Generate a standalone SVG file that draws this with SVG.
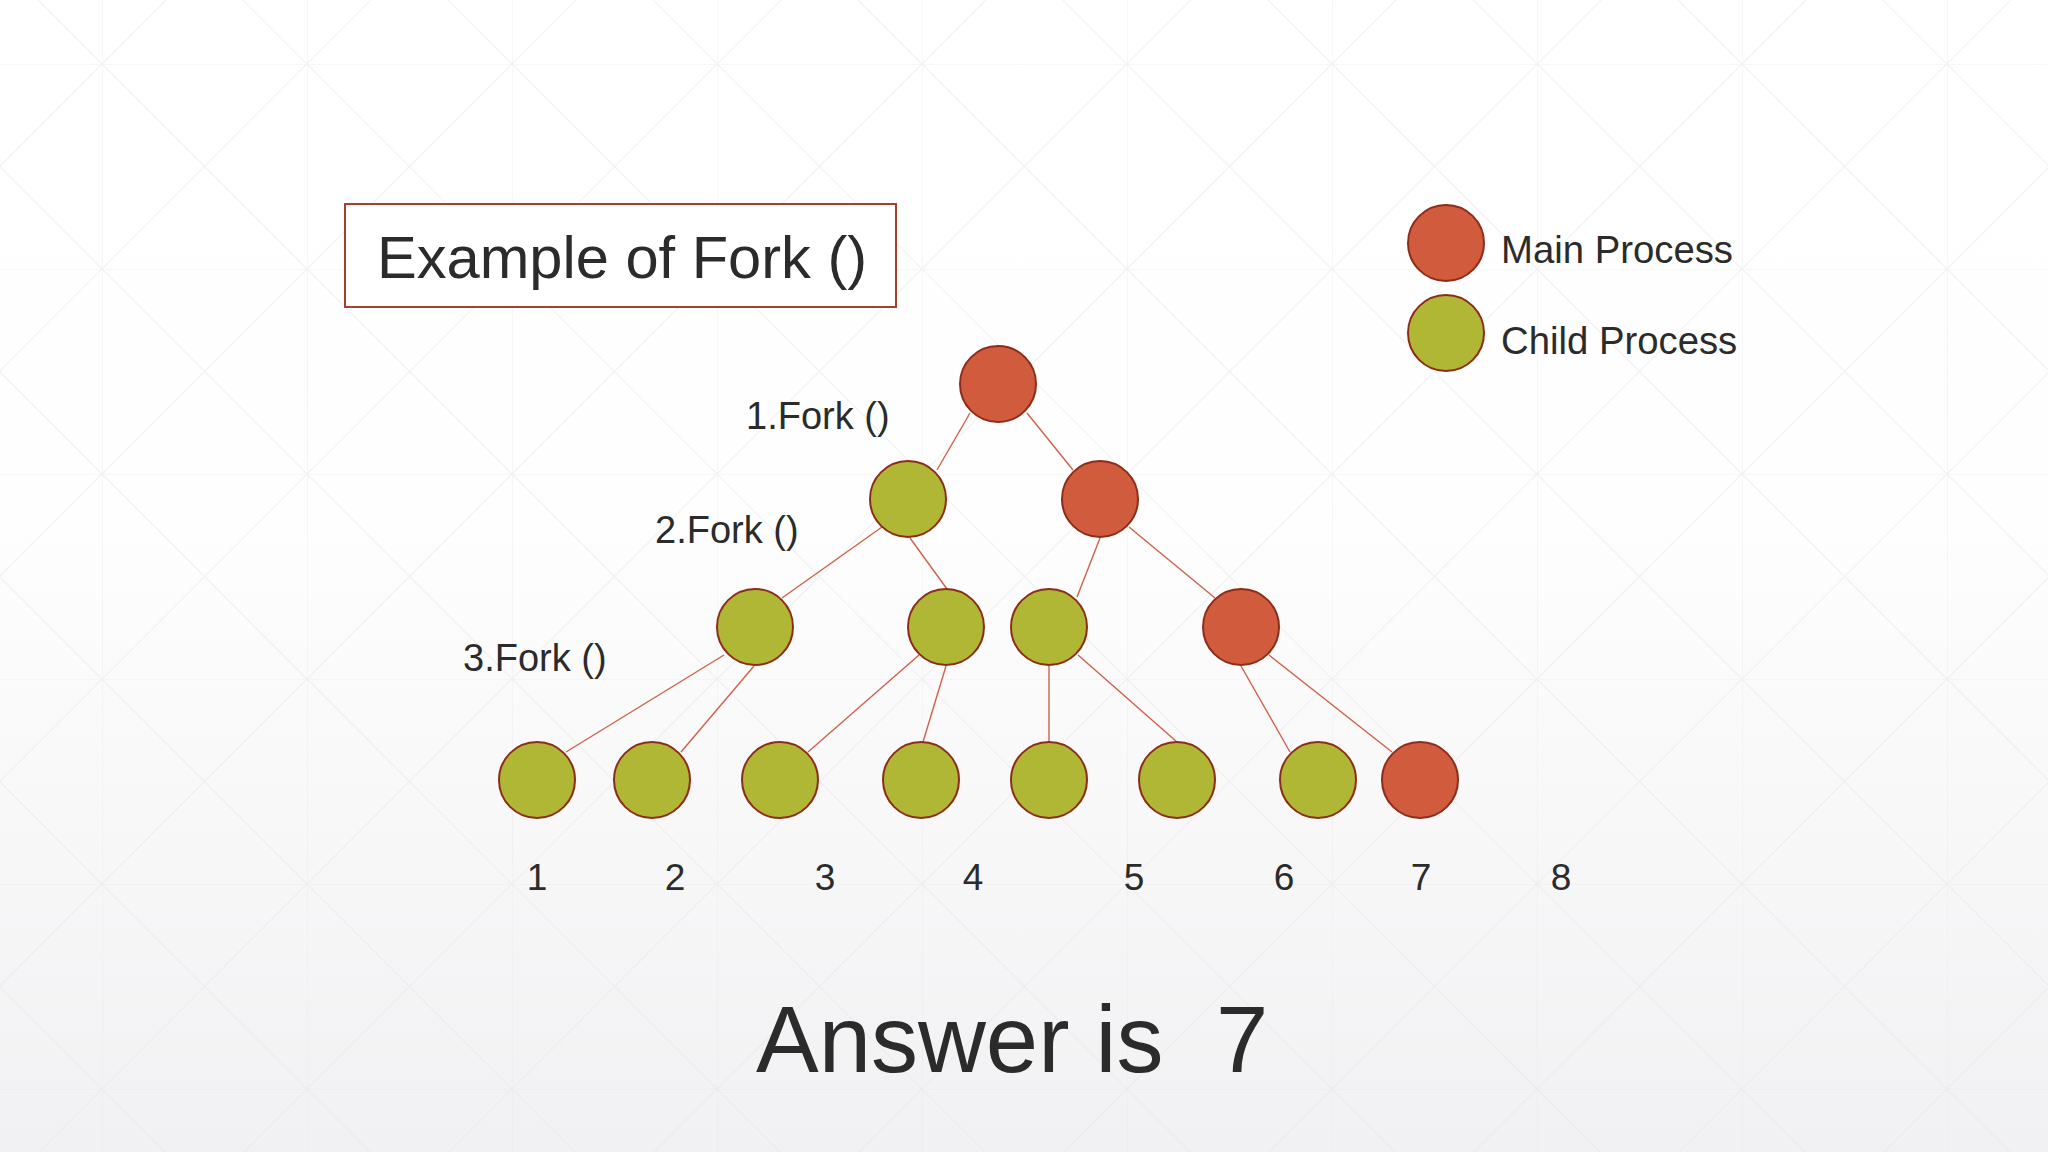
<svg xmlns="http://www.w3.org/2000/svg" width="2048" height="1152" viewBox="0 0 2048 1152">
  <defs>
    <linearGradient id="bg" x1="0" y1="0" x2="0" y2="1">
      <stop offset="0" stop-color="#ffffff"/>
      <stop offset="0.45" stop-color="#fefefe"/>
      <stop offset="1" stop-color="#f1f1f3"/>
    </linearGradient>
    <pattern id="grid" patternUnits="userSpaceOnUse" x="102" y="64" width="205" height="205">
      <path d="M0 0H205M0 0V205M0 0L205 205M205 0L0 205" fill="none" stroke="#e4e4e8" stroke-width="1.2"/>
    </pattern>
    <style>
      .main { fill: #D15B3D; stroke: #8E2C1A; stroke-width: 2; }
      .child { fill: #AFB735; stroke: #8E2C1A; stroke-width: 2; }
      .edge { stroke: #D0604A; stroke-width: 1.4; fill: none; }
      .t { font-family: "Liberation Sans", Arial, sans-serif; fill: #2b2b2b; }
      .lbl { font-size: 38px; }
      .num { font-size: 37px; text-anchor: middle; }
    </style>
  </defs>

  <rect width="2048" height="1152" fill="url(#bg)"/>
  <rect width="2048" height="1152" fill="url(#grid)" opacity="0.5"/>

  <g id="title">
    <rect x="345" y="204" width="551" height="103" fill="#ffffff" stroke="#A3402E" stroke-width="2"/>
    <text class="t" x="377" y="278" font-size="59.6">Example of Fork ()</text>
  </g>

  <g id="legend-main">
    <circle class="main" cx="1446" cy="243" r="38"/>
    <text class="t" x="1501" y="263" font-size="38.3">Main Process</text>
  </g>
  <g id="legend-child">
    <circle class="child" cx="1446" cy="333" r="38"/>
    <text class="t" x="1501" y="354" font-size="38.3">Child Process</text>
  </g>

  <g id="connectors">
    <line class="edge" x1="970" y1="413" x2="937" y2="470"/>
    <line class="edge" x1="1027" y1="413" x2="1073" y2="470"/>
    <line class="edge" x1="882" y1="527" x2="782" y2="598"/>
    <line class="edge" x1="910" y1="538" x2="947" y2="589"/>
    <line class="edge" x1="1100" y1="538" x2="1077" y2="597"/>
    <line class="edge" x1="1129" y1="527" x2="1215" y2="598"/>
    <line class="edge" x1="724" y1="655" x2="566" y2="752"/>
    <line class="edge" x1="754" y1="666" x2="681" y2="752"/>
    <line class="edge" x1="919" y1="655" x2="808" y2="752"/>
    <line class="edge" x1="946" y1="666" x2="923" y2="742"/>
    <line class="edge" x1="1049" y1="666" x2="1049" y2="742"/>
    <line class="edge" x1="1078" y1="655" x2="1177" y2="742"/>
    <line class="edge" x1="1241" y1="666" x2="1290" y2="752"/>
    <line class="edge" x1="1269" y1="655" x2="1392" y2="752"/>
  </g>

  <g id="node-root"><circle class="main" cx="998" cy="384" r="38"/></g>
  <g id="node-l1-child"><circle class="child" cx="908" cy="499" r="38"/></g>
  <g id="node-l1-main"><circle class="main" cx="1100" cy="499" r="38"/></g>
  <g id="node-l2-a"><circle class="child" cx="755" cy="627" r="38"/></g>
  <g id="node-l2-b"><circle class="child" cx="946" cy="627" r="38"/></g>
  <g id="node-l2-c"><circle class="child" cx="1049" cy="627" r="38"/></g>
  <g id="node-l2-main"><circle class="main" cx="1241" cy="627" r="38"/></g>
  <g id="node-l3-1"><circle class="child" cx="537" cy="780" r="38"/></g>
  <g id="node-l3-2"><circle class="child" cx="652" cy="780" r="38"/></g>
  <g id="node-l3-3"><circle class="child" cx="780" cy="780" r="38"/></g>
  <g id="node-l3-4"><circle class="child" cx="921" cy="780" r="38"/></g>
  <g id="node-l3-5"><circle class="child" cx="1049" cy="780" r="38"/></g>
  <g id="node-l3-6"><circle class="child" cx="1177" cy="780" r="38"/></g>
  <g id="node-l3-7"><circle class="child" cx="1318" cy="780" r="38"/></g>
  <g id="node-l3-main"><circle class="main" cx="1420" cy="780" r="38"/></g>

  <g id="fork-labels">
    <text class="t lbl" x="746" y="429">1.Fork ()</text>
    <text class="t lbl" x="655" y="543">2.Fork ()</text>
    <text class="t lbl" x="463" y="671">3.Fork ()</text>
  </g>

  <g id="counts">
    <text class="t num" x="537" y="890">1</text>
    <text class="t num" x="675" y="890">2</text>
    <text class="t num" x="825" y="890">3</text>
    <text class="t num" x="973" y="890">4</text>
    <text class="t num" x="1134" y="890">5</text>
    <text class="t num" x="1284" y="890">6</text>
    <text class="t num" x="1421" y="890">7</text>
    <text class="t num" x="1561" y="890">8</text>
  </g>

  <g id="answer">
    <text class="t" x="756" y="1072" font-size="94">Answer is<tspan x="1216">7</tspan></text>
  </g>
</svg>
